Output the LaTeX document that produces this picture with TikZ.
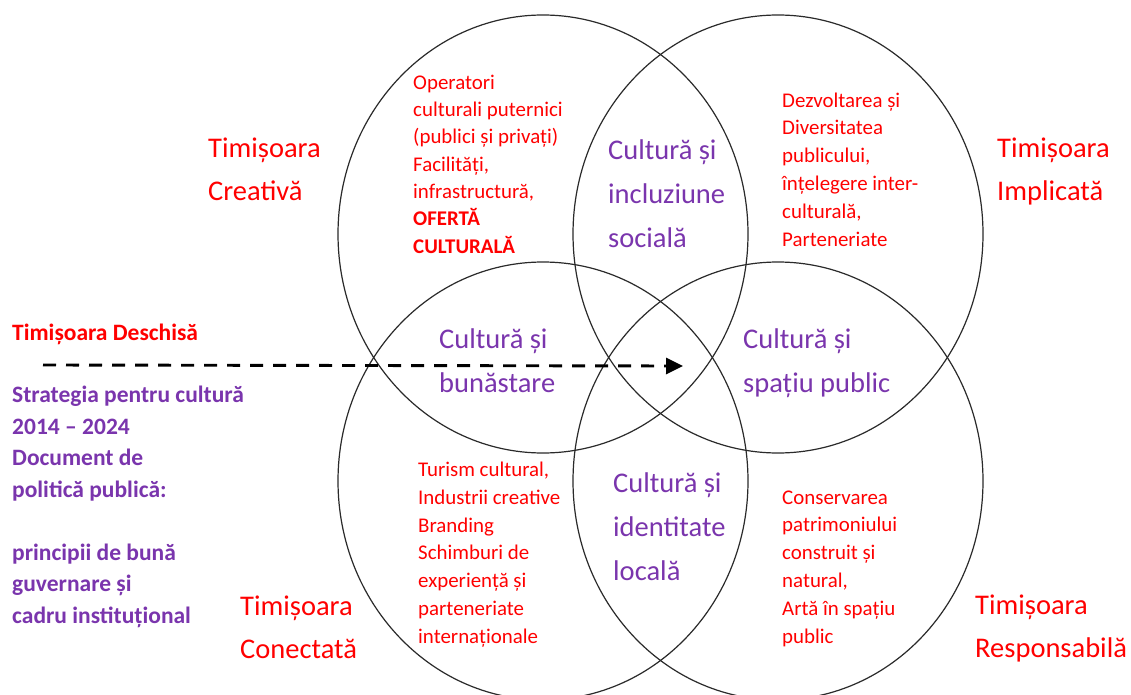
\documentclass[tikz,border=0pt]{standalone}
\usepackage{fontspec}
\setmainfont{Carlito}
\usetikzlibrary{arrows.meta}
\definecolor{vred}{HTML}{FF0000}
\definecolor{vpurple}{HTML}{7A35AD}
\definecolor{ring}{HTML}{2A2A2A}
\tikzset{
  ring/.style={draw=ring, line width=1.2pt},
  body/.style={anchor=base west, inner sep=0pt, align=left, text=vred, font={\fontsize{20.9}{27.6}\selectfont}},
  theme/.style={anchor=base west, inner sep=0pt, align=left, text=vpurple, font={\fontsize{28.5}{43.7}\selectfont}},
  city/.style={anchor=base west, inner sep=0pt, align=left, text=vred, font={\fontsize{28.5}{43}\selectfont}},
  side/.style={anchor=base west, inner sep=0pt, align=left, font={\bfseries\fontsize{23.5}{31.5}\selectfont}},
  flow/.style={line width=2.9pt, dash pattern=on 13pt off 10pt, -{Triangle[length=17pt,width=16pt]}}
}
\begin{document}
\begin{tikzpicture}[x=1pt,y=-1pt]
\path[use as bounding box] (0,0) rectangle (1131,695);
\fill[white] (0,0) rectangle (1131,695);
% circles
\draw[ring] (543,234) ellipse [x radius=205pt, y radius=219pt];
\draw[ring] (778,234) ellipse [x radius=205pt, y radius=219pt];
\draw[ring] (543,481) ellipse [x radius=205pt, y radius=219pt];
\draw[ring] (778,481) ellipse [x radius=205pt, y radius=219pt];
% city labels (anchored at the baseline of the last line)
\node[city] (creativa) at (208,200) {Timișoara\\Creativă};
\node[city] (implicata) at (997,200) {Timișoara\\Implicată};
\node[city] (conectata) at (240,658) {Timișoara\\Conectată};
\node[city] (responsabila) at (975,657) {Timișoara\\Responsabilă};
% body texts
\node[body, font={\fontsize{20.9}{27.3}\selectfont}] (tl) at (413,253) {Operatori\\culturali puternici\\(publici și privați)\\Facilități,\\infrastructură,\\\textbf{OFERTĂ}\\\textbf{CULTURALĂ}};
\node[body, font={\fontsize{20.9}{27.8}\selectfont}] (tr) at (782,246) {Dezvoltarea și\\Diversitatea\\publicului,\\înțelegere inter-\\culturală,\\Parteneriate};
\node[body, font={\fontsize{20.9}{27.7}\selectfont}] (bl) at (418,643) {Turism cultural,\\Industrii creative\\Branding\\Schimburi de\\experiență și\\parteneriate\\internaționale};
\node[body, font={\fontsize{20.9}{27.8}\selectfont}] (br) at (782,643) {Conservarea\\patrimoniului\\construit și\\natural,\\Artă în spațiu\\public};
% themes
\node[theme] (incl) at (608,247) {Cultură și\\incluziune\\socială};
\node[theme] (buna) at (439,392) {Cultură și\\bunăstare};
\node[theme] (spat) at (743,392) {Cultură și\\spațiu public};
\node[theme] (iden) at (613,580) {Cultură și\\identitate\\locală};
% left side
\node[side, text=vred] (deschisa) at (12,340) {Timișoara Deschisă};
\node[side, text=vpurple] (strat) at (12,623) {Strategia pentru cultură\\2014 – 2024\\Document de\\politică publică:\\[31.5pt]principii de bună\\guvernare și\\cadru instituțional};
% arrow
\coordinate (astart) at (43,365);
\coordinate (aend) at (683,366);
\draw[flow] (astart) -- (aend);
\end{tikzpicture}
\end{document}
